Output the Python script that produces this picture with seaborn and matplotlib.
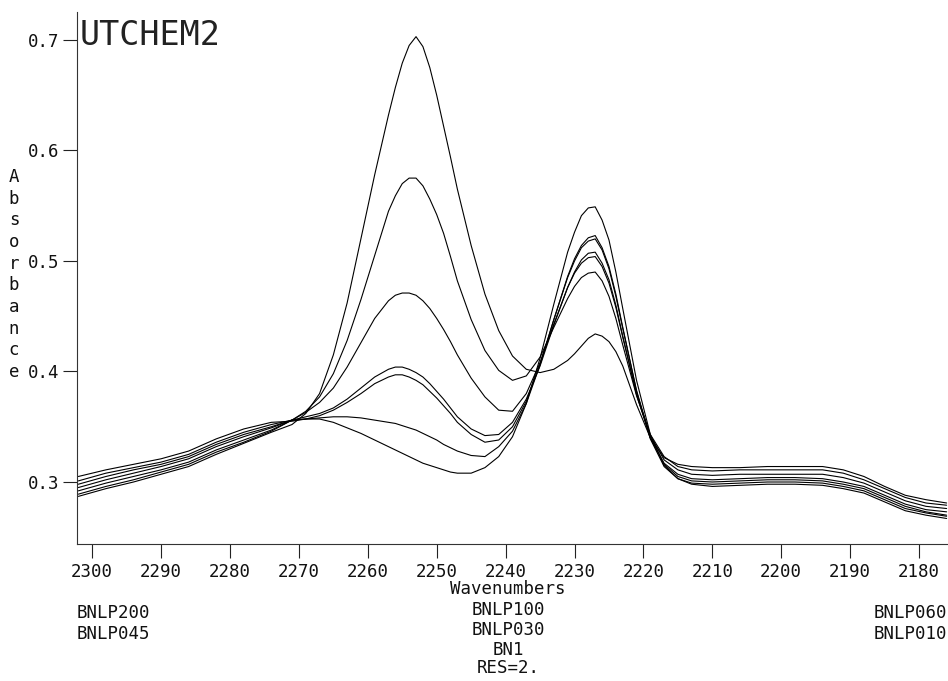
import matplotlib
matplotlib.use("Agg")
import matplotlib.pyplot as plt
import seaborn as sns
import pandas as pd

# ---------------- data ----------------
wavenumbers = [2302, 2298, 2294, 2290, 2286, 2282, 2278, 2274,
               2271, 2269, 2267, 2265, 2263, 2261, 2259,
               2257, 2256, 2255, 2254, 2253, 2252, 2251, 2250, 2249, 2248, 2247,
               2245, 2243, 2241, 2239, 2237, 2235, 2233,
               2231, 2230, 2229, 2228, 2227, 2226, 2225, 2224, 2223,
               2221, 2219, 2217, 2215, 2213,
               2210, 2206, 2202, 2198, 2194, 2191, 2188, 2185, 2182, 2179, 2176]

bnlp200 = [0.287, 0.294, 0.300, 0.307, 0.314, 0.325, 0.335, 0.345,
           0.352, 0.362, 0.380, 0.415, 0.462, 0.520, 0.578,
           0.632, 0.657, 0.679, 0.695, 0.703, 0.694, 0.675, 0.650, 0.622, 0.594, 0.565,
           0.514, 0.470, 0.437, 0.414, 0.402, 0.399, 0.402,
           0.410, 0.416, 0.423, 0.430, 0.434, 0.432, 0.427, 0.418, 0.405,
           0.370, 0.340, 0.322, 0.316, 0.314,
           0.313, 0.313, 0.314, 0.314, 0.314, 0.311, 0.305, 0.296, 0.288, 0.284, 0.281]

bnlp100 = [0.289, 0.296, 0.302, 0.309, 0.316, 0.327, 0.336, 0.346,
           0.356, 0.364, 0.377, 0.398, 0.428, 0.465, 0.505,
           0.545, 0.559, 0.570, 0.575, 0.575, 0.568, 0.556, 0.542, 0.525, 0.504, 0.482,
           0.447, 0.419, 0.401, 0.392, 0.396, 0.413, 0.440,
           0.466, 0.477, 0.485, 0.489, 0.490, 0.482, 0.468, 0.448, 0.424,
           0.378, 0.343, 0.323, 0.314, 0.311,
           0.310, 0.311, 0.311, 0.311, 0.311, 0.308, 0.302, 0.294, 0.286, 0.281, 0.279]

bnlp060 = [0.292, 0.299, 0.305, 0.311, 0.318, 0.329, 0.338, 0.347,
           0.356, 0.363, 0.372, 0.385, 0.404, 0.426, 0.448,
           0.464, 0.469, 0.471, 0.471, 0.469, 0.464, 0.457, 0.448, 0.438, 0.427, 0.415,
           0.394, 0.377, 0.365, 0.364, 0.380, 0.408, 0.443,
           0.476, 0.489, 0.498, 0.503, 0.504, 0.495, 0.480, 0.458, 0.431,
           0.380, 0.342, 0.320, 0.311, 0.307,
           0.306, 0.307, 0.307, 0.307, 0.307, 0.304, 0.299, 0.291, 0.283, 0.278, 0.276]

bnlp045 = [0.295, 0.302, 0.308, 0.314, 0.321, 0.332, 0.341, 0.349,
           0.356, 0.359, 0.362, 0.367, 0.375, 0.385, 0.395,
           0.402, 0.404, 0.404, 0.402, 0.399, 0.395, 0.389, 0.382, 0.375, 0.367, 0.359,
           0.348, 0.342, 0.343, 0.354, 0.375, 0.405, 0.442,
           0.476, 0.490, 0.501, 0.507, 0.508, 0.498, 0.483, 0.460, 0.432,
           0.379, 0.340, 0.317, 0.307, 0.303,
           0.302, 0.303, 0.304, 0.304, 0.303, 0.300, 0.296, 0.288, 0.280, 0.275, 0.273]

bnlp030 = [0.298, 0.305, 0.311, 0.316, 0.323, 0.334, 0.343, 0.350,
           0.356, 0.357, 0.360, 0.365, 0.372, 0.380, 0.389,
           0.395, 0.397, 0.397, 0.395, 0.392, 0.388, 0.382, 0.376, 0.369, 0.362, 0.354,
           0.343, 0.336, 0.338, 0.350, 0.373, 0.407, 0.447,
           0.485, 0.500, 0.512, 0.518, 0.520, 0.510, 0.493, 0.468, 0.439,
           0.383, 0.340, 0.316, 0.305, 0.301,
           0.300, 0.301, 0.302, 0.302, 0.301, 0.298, 0.294, 0.286, 0.278, 0.273, 0.270]

bnlp010 = [0.305, 0.311, 0.316, 0.321, 0.328, 0.339, 0.348, 0.354,
           0.355, 0.357, 0.358, 0.359, 0.359, 0.358, 0.356,
           0.354, 0.353, 0.351, 0.349, 0.347, 0.344, 0.341, 0.338, 0.334, 0.331, 0.328,
           0.324, 0.323, 0.332, 0.346, 0.371, 0.406, 0.447,
           0.486, 0.502, 0.514, 0.521, 0.523, 0.512, 0.495, 0.470, 0.440,
           0.382, 0.339, 0.314, 0.303, 0.299,
           0.298, 0.299, 0.300, 0.300, 0.299, 0.296, 0.292, 0.284, 0.276, 0.272, 0.269]

bn1 = [0.301, 0.308, 0.313, 0.318, 0.325, 0.336, 0.345, 0.352,
       0.356, 0.357, 0.357, 0.354, 0.349, 0.344, 0.338,
       0.332, 0.329, 0.326, 0.323, 0.320, 0.317, 0.315, 0.313, 0.311, 0.309, 0.308,
       0.308, 0.313, 0.323, 0.341, 0.371, 0.412, 0.461,
       0.508, 0.526, 0.541, 0.548, 0.549, 0.537, 0.519, 0.490, 0.457,
       0.392, 0.343, 0.315, 0.303, 0.298,
       0.296, 0.297, 0.298, 0.298, 0.297, 0.294, 0.290, 0.282, 0.274, 0.270, 0.267]

series = {"BNLP200": bnlp200, "BNLP100": bnlp100, "BNLP060": bnlp060,
          "BNLP045": bnlp045, "BNLP030": bnlp030, "BNLP010": bnlp010, "BN1": bn1}

x_ticks = [2300, 2290, 2280, 2270, 2260, 2250, 2240, 2230, 2220, 2210, 2200, 2190, 2180]
y_ticks = [0.3, 0.4, 0.5, 0.6, 0.7]
y_tick_labels = ["0.3", "0.4", "0.5", "0.6", "0.7"]

title_text = "UTCHEM2"
x_label = "Wavenumbers"
y_label = "Absorbance"
left_notes = ["BNLP200", "BNLP045"]
mid_notes = ["BNLP100", "BNLP030", "BN1", "RES=2."]
right_notes = ["BNLP060", "BNLP010"]

# ---------------- drawing ----------------
sns.set_style("white")
plt.rcParams["font.family"] = ["DejaVu Sans Mono", "DejaVu Sans"]

W, H = 948, 681
fig = plt.figure(figsize=(W / 100, H / 100), dpi=100)
ax = fig.add_axes([77 / W, 1 - 544 / H, (W - 77) / W, (544 - 12) / H])

rows = []
for name, vals in series.items():
    for wn, a in zip(wavenumbers, vals):
        rows.append({"sample": name, "wavenumber": wn, "absorbance": a})
df = pd.DataFrame(rows)

sns.lineplot(data=df, x="wavenumber", y="absorbance", hue="sample",
             palette=["black"] * len(series), estimator=None, sort=False,
             linewidth=0.8, legend=False, ax=ax)

ax.set_xlim(2302.2, 2175.8)
ax.set_ylim(0.2439, 0.7253)
ax.set_xticks(x_ticks)
ax.set_xticklabels([str(t) for t in x_ticks])
ax.set_yticks(y_ticks)
ax.set_yticklabels(y_tick_labels)
ax.set_xlabel("")
ax.set_ylabel("")

for side in ["top", "right"]:
    ax.spines[side].set_visible(False)
for side in ["left", "bottom"]:
    ax.spines[side].set_color("#333333")
    ax.spines[side].set_linewidth(0.8)

ax.tick_params(axis="both", direction="out", length=10, width=0.8,
               color="#222222", labelsize=12.5, labelcolor="#111111",
               left=True, bottom=True)
ax.tick_params(axis="y", pad=3)
ax.tick_params(axis="x", pad=4)

def fy(py):
    return 1 - py / H

fig.text(80 / W, fy(45), title_text, ha="left", va="baseline",
         fontsize=24, color="#222222")

# stacked vertical y label
n = len(y_label)
y0, y1 = 177, 372
for i, ch in enumerate(y_label):
    py = y0 + (y1 - y0) * i / (n - 1)
    fig.text(14 / W, fy(py), ch, ha="center", va="center",
             fontsize=12.5, color="#111111")

fig.text(508 / W, fy(594), x_label, ha="center", va="baseline",
         fontsize=12.5, color="#111111")

left_base = [618, 639]
for t, b in zip(left_notes, left_base):
    fig.text(77 / W, fy(b), t, ha="left", va="baseline", fontsize=12.5, color="#111111")

mid_base = [615, 635, 655, 673]
for t, b in zip(mid_notes, mid_base):
    fig.text(508 / W, fy(b), t, ha="center", va="baseline", fontsize=12.5, color="#111111")

right_base = [618, 639]
for t, b in zip(right_notes, right_base):
    fig.text(947 / W, fy(b), t, ha="right", va="baseline", fontsize=12.5, color="#111111")

fig.savefig("out.png", dpi=100)
